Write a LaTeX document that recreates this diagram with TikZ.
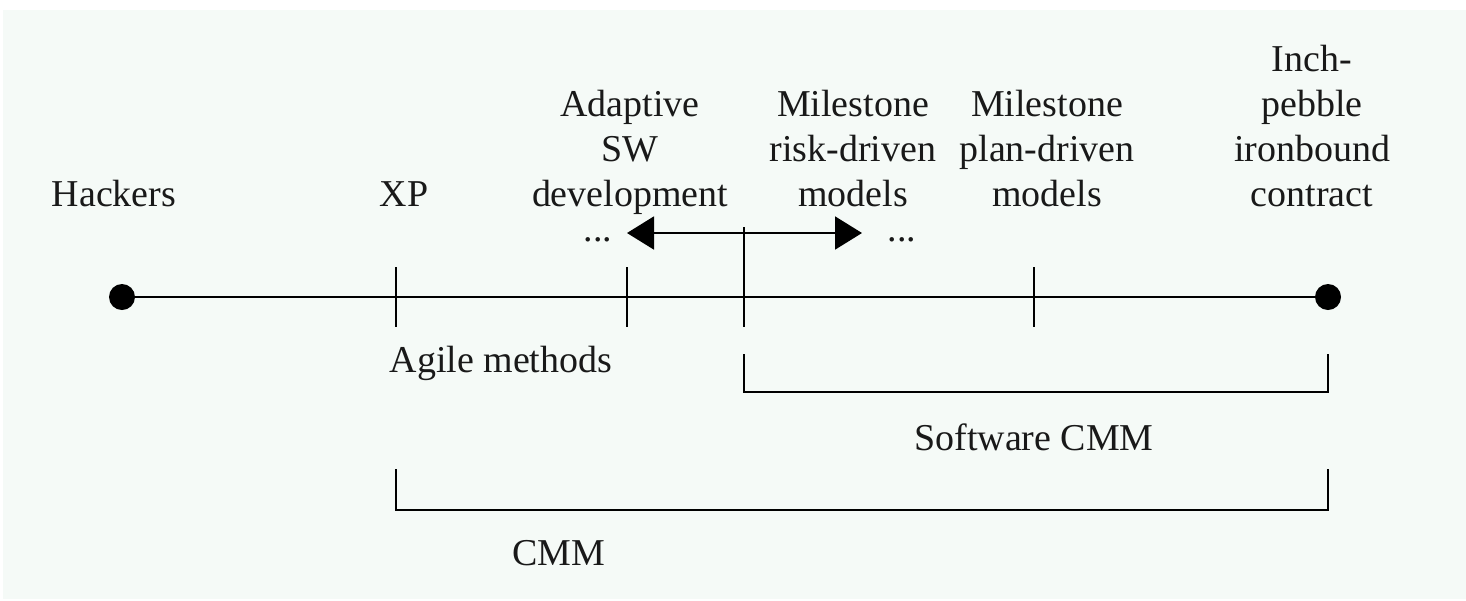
\documentclass[tikz,border=0pt]{standalone}
\usepackage{fontspec}
\setmainfont{Liberation Serif}
\usetikzlibrary{arrows.meta}
\definecolor{panelbg}{HTML}{F5FAF7}
\tikzset{>={Triangle[length=0.54cm,width=0.66cm]}}
\tikzstyle{axis line}=[line width=1.1pt,draw=black,line cap=rect]
\tikzstyle{label}=[font=\fontsize{21.6}{25.6}\selectfont,text=black!90,align=center,inner sep=0pt,anchor=base]
\tikzstyle{end dot}=[circle,fill=black,minimum size=0.52cm,inner sep=0pt]

\begin{document}
\begin{tikzpicture}[x=0.02cm,y=-0.02cm]
	\def\ly{297}  % timeline height
	\def\tb{206}  % baseline of the labels above the line
	\useasboundingbox (0,0) rectangle (1466,600);
	\fill[panelbg] (3,10) rectangle (1466,599);

	% End points and timeline
	\node[end dot] (hdot) at (122,\ly) {};
	\node[end dot] (cdot) at (1328,\ly) {};
	\draw[axis line] (hdot) -- (cdot);

	% Ticks
	\foreach \x/\n in {396/xp,627/asd,1034/mpd}
		\draw[axis line] (\x,268) coordinate (\n top) -- (\x,326) coordinate (\n bot);
	\draw[axis line] (744,326) coordinate (mrd bot) -- (744,228) coordinate (mrd top);

	% Range of the risk-driven models
	\coordinate (rl) at (627,233);
	\coordinate (rr) at (862,233);
	\draw[axis line,<->] (rl) -- (rr);
	\node[label] (dl) at (598,241) {...};
	\node[label] (dr) at (902,241) {...};

	% Labels above the line (anchored at their last line)
	\node[label] (hackers) at (114,\tb) {Hackers};
	\node[label] (xp) at (404,\tb) {XP};
	\node[label] (asd) at (630,\tb) {Adaptive\\SW\\development};
	\node[label] (mrd) at (853,\tb) {Milestone\\risk-driven\\models};
	\node[label] (mpd) at (1047,\tb) {Milestone\\plan-driven\\models};
	\node[label] (ipc) at (1312,\tb) {Inch-\\pebble\\ironbound\\contract};

	% Labels and brackets below the line
	\node[label] (agile) at (501,372) {Agile methods};
	\draw[axis line] (744,355) coordinate (s1) |- (1328,392) coordinate (s2) -- (1328,355) coordinate (s3);
	\node[label] (swcmm) at (1034,450) {Software CMM};
	\draw[axis line] (396,470) coordinate (c1) |- (1328,510) coordinate (c2) -- (1328,470) coordinate (c3);
	\node[label] (cmm) at (559,565) {CMM};
\end{tikzpicture}
\end{document}
